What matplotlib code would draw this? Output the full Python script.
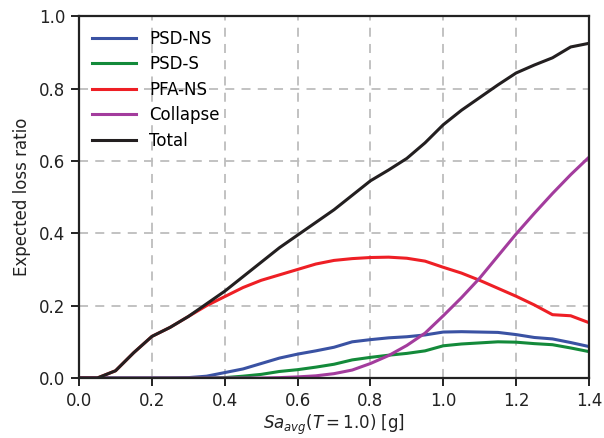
import matplotlib
matplotlib.use("Agg")
import matplotlib.pyplot as plt

# intensity levels
sa = [0.0, 0.05, 0.1, 0.15, 0.2, 0.25, 0.3, 0.35, 0.4, 0.45, 0.5, 0.55, 0.6, 0.65,
      0.7, 0.75, 0.8, 0.85, 0.9, 0.95, 1.0, 1.05, 1.1, 1.15, 1.2, 1.25, 1.3, 1.35, 1.4]

psd_ns = [0, 0, 0, 0, 0, 0, 0.001, 0.005, 0.015, 0.025, 0.04, 0.055, 0.066, 0.075,
          0.085, 0.1, 0.106, 0.111, 0.114, 0.119, 0.127, 0.128, 0.127, 0.126, 0.12,
          0.112, 0.108, 0.098, 0.087]
psd_s = [0, 0, 0, 0, 0, 0, 0, 0, 0.001, 0.005, 0.01, 0.018, 0.023, 0.03, 0.038,
         0.05, 0.057, 0.063, 0.068, 0.075, 0.089, 0.094, 0.097, 0.1, 0.099, 0.095,
         0.092, 0.083, 0.073]
pfa_ns = [0, 0, 0.02, 0.07, 0.115, 0.14, 0.17, 0.2, 0.225, 0.25, 0.27, 0.285, 0.3,
          0.315, 0.325, 0.33, 0.333, 0.334, 0.331, 0.323, 0.306, 0.29, 0.27, 0.248,
          0.226, 0.202, 0.175, 0.172, 0.153]
collapse = [0, 0, 0, 0, 0, 0, 0, 0, 0, 0, 0, 0.001, 0.003, 0.006, 0.012, 0.022,
            0.04, 0.062, 0.09, 0.124, 0.172, 0.222, 0.276, 0.337, 0.398, 0.455,
            0.51, 0.562, 0.61]
total = [0, 0, 0.02, 0.07, 0.115, 0.14, 0.17, 0.205, 0.24, 0.28, 0.32, 0.36, 0.395,
         0.43, 0.465, 0.505, 0.545, 0.575, 0.607, 0.65, 0.70, 0.74, 0.775, 0.81,
         0.843, 0.865, 0.885, 0.915, 0.925]

fig = plt.figure(figsize=(6.04, 4.38), dpi=100)
ax = fig.add_axes([0.131, 0.137, 0.844, 0.826])

ax.plot(sa, psd_ns, color='#3a52a3', lw=2.2, label='PSD-NS')
ax.plot(sa, psd_s, color='#138a3a', lw=2.2, label='PSD-S')
ax.plot(sa, pfa_ns, color='#ee1f25', lw=2.2, label='PFA-NS')
ax.plot(sa, collapse, color='#a33c9d', lw=2.2, label='Collapse')
ax.plot(sa, total, color='#231f20', lw=2.2, label='Total')

ax.set_xlim(0, 1.4)
ax.set_ylim(0, 1.0)
ax.set_xticks([0.0, 0.2, 0.4, 0.6, 0.8, 1.0, 1.2, 1.4])
ax.set_yticks([0.0, 0.2, 0.4, 0.6, 0.8, 1.0])
ax.grid(True, ls=(0, (5, 4)), color='#bdbdbd', lw=1.3)
ax.set_axisbelow(True)
for s in ax.spines.values():
    s.set_linewidth(1.6)
    s.set_color('#222222')
ax.tick_params(direction='out', length=6, width=1.4, labelsize=12, colors='#222222', pad=4)
ax.set_xlabel('$Sa_{avg}(T=1.0)$ [g]', fontsize=12, color='#222222', labelpad=2)
ax.set_ylabel('Expected loss ratio', fontsize=12, color='#222222', labelpad=6)
ax.legend(loc='upper left', frameon=False, fontsize=12, handlelength=2.6,
          borderaxespad=0.4, labelspacing=0.45)

fig.savefig('out.png', dpi=100)
